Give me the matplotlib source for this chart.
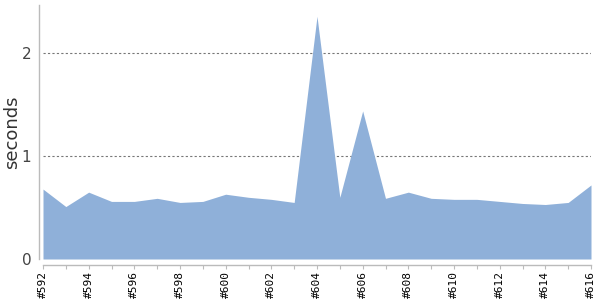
import numpy as np
import matplotlib
matplotlib.use("Agg")
import matplotlib.pyplot as plt

builds = list(range(592, 617))
seconds = [0.68, 0.51, 0.65, 0.56, 0.56, 0.59, 0.55, 0.56, 0.63, 0.60,
           0.58, 0.55, 2.36, 0.60, 1.44, 0.59, 0.65, 0.59, 0.58, 0.58,
           0.56, 0.54, 0.53, 0.55, 0.72]
labels = ["#%d" % b for b in builds]

fig = plt.figure(figsize=(6, 3), dpi=100)
ax = fig.add_axes([43 / 600, 1 - 259 / 300, (591 - 43) / 600, (259 - 5) / 300])

x = np.arange(len(builds))
ax.fill_between(x, 0, seconds, color="#8fb0d9", linewidth=0)

ax.set_xlim(0, len(builds) - 1)
ax.set_ylim(0, 2.47)

for yv in [1, 2]:
    ax.axhline(yv, color="#777777", linestyle=(0, (2, 2)), linewidth=0.8, zorder=0)

ax.spines["top"].set_visible(False)
ax.spines["right"].set_visible(False)
ax.spines["left"].set_position(("outward", 3))
ax.spines["bottom"].set_position(("outward", 4))
for s in ["left", "bottom"]:
    ax.spines[s].set_color("#bbbbbb")
    ax.spines[s].set_linewidth(1)

ax.set_xticks(x)
ax.set_xticklabels([l if i % 2 == 0 else "" for i, l in enumerate(labels)],
                   rotation=90, fontsize=8, family="DejaVu Sans Mono")
ax.tick_params(axis="x", length=3, color="#bbbbbb", pad=1.5)
ax.set_yticks([0, 1, 2])
ax.tick_params(axis="y", length=0, labelcolor="#444444", labelsize=11, pad=5.5)
ax.set_ylabel("seconds", fontsize=13, color="#333333")
ax.yaxis.set_label_coords(-0.04, 0.5)

fig.savefig("out.png", dpi=100)
